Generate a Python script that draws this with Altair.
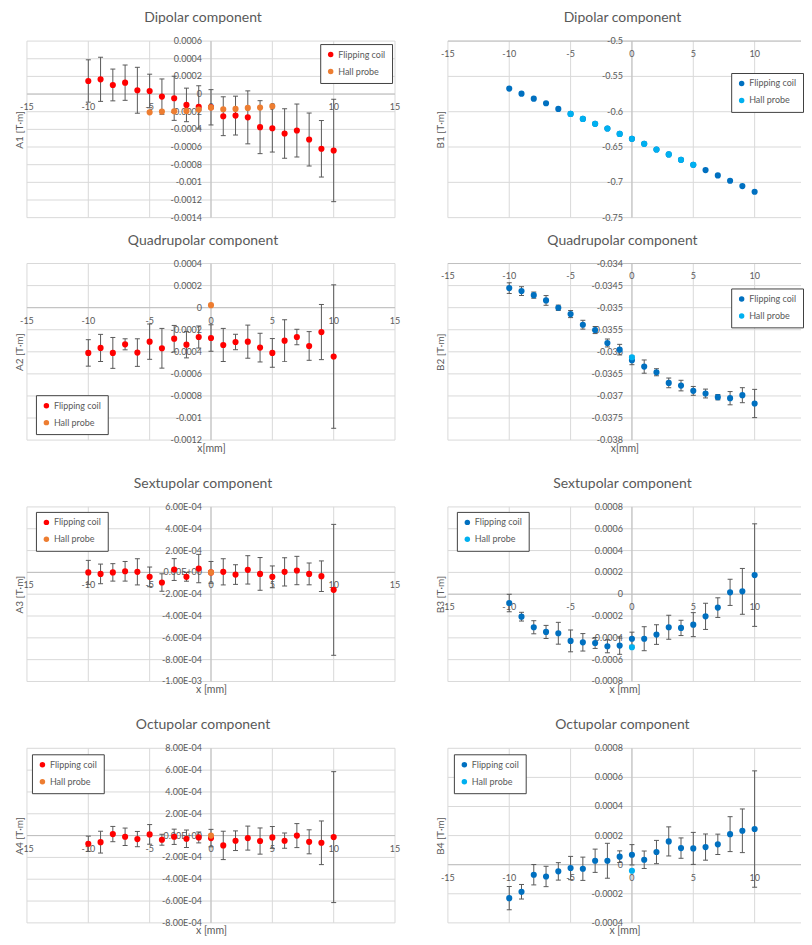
import altair as alt
import pandas as pd

FONT = "Lato"
TXT = "#595959"
GRID = "#D9D9D9"
AXC = "#BFBFBF"
EBC = "#595959"
LEGB = "#404040"
SERIES = ["Flipping coil", "Hall probe"]
LEFT_COLORS = ["#FF0000", "#ED7D31"]
RIGHT_COLORS = ["#0070C0", "#00B0F0"]

X_POS = [-10, -9, -8, -7, -6, -5, -4, -3, -2, -1, 0, 1, 2, 3, 4, 5, 6, 7, 8, 9, 10]
X_TICKS_L = [-15, -10, -5, 0, 5, 10, 15]
X_TICKS_R = [-15, -10, -5, 0, 5, 10]

# ---- Dipolar ----
A1_FC = [0.000148, 0.000167, 0.000103, 0.000129, 0.000043, 0.000035, -0.000029, -0.000048,
         -0.000123, -0.000146, -0.00015, -0.000251, -0.000244, -0.000264, -0.000375, -0.000387,
         -0.000447, -0.000413, -0.000515, -0.00062, -0.000639]
A1_ERR = [0.00024, 0.00025, 0.00018, 0.0002, 0.00026, 0.00019, 0.0002, 0.00025, 0.00019, 0.00024,
          0.0002, 0.00022, 0.00022, 0.0003, 0.0003, 0.00027, 0.00028, 0.0003, 0.0003, 0.00032, 0.00058]
A1_HP_X = [-5, -4, -3, -2, -1, 0, 1, 2, 3, 4, 5]
A1_HP = [-0.000207, -0.000199, -0.000195, -0.000191, -0.000176, -0.000153, -0.000172, -0.000168,
         -0.000157, -0.000153, -0.000138]
A1_YT = [0.0006, 0.0004, 0.0002, 0.0, -0.0002, -0.0004, -0.0006, -0.0008, -0.001, -0.0012, -0.0014]
A1_YL = ["0.0006", "0.0004", "0.0002", "0", "-0.0002", "-0.0004", "-0.0006", "-0.0008", "-0.001",
         "-0.0012", "-0.0014"]

B1_FC = [-0.5673, -0.5744, -0.5815, -0.5880, -0.5960, -0.6031, -0.6102, -0.6172, -0.6238, -0.6314,
         -0.6384, -0.6455, -0.6535, -0.6605, -0.6681, -0.6751, -0.6827, -0.6902, -0.6977, -0.7053,
         -0.7133]
B1_HP_X = [-5, -4, -3, -2, -1, 0, 1, 2, 3, 4, 5]
B1_HP = [-0.6031, -0.6102, -0.6172, -0.6238, -0.6314, -0.6384, -0.6455, -0.6535, -0.6605, -0.6681,
         -0.6751]
B1_YT = [-0.5, -0.55, -0.6, -0.65, -0.7, -0.75]
B1_YL = ["-0.5", "-0.55", "-0.6", "-0.65", "-0.7", "-0.75"]

# ---- Quadrupolar ----
A2_FC = [-0.00041, -0.000365, -0.00041, -0.000332, -0.000407, -0.000308, -0.000368, -0.000281,
         -0.000335, -0.000266, -0.000275, -0.000338, -0.000311, -0.000308, -0.000362, -0.00041,
         -0.000299, -0.000266, -0.000347, -0.000221, -0.000443]
A2_ERR = [0.00012, 0.000123, 0.00014, 0.00005, 0.000125, 0.00016, 0.00018, 0.00012, 0.00012, 0.0001,
          0.00012, 0.00015, 0.00007, 0.00015, 0.00013, 0.00013, 0.00019, 0.00007, 0.00013, 0.00025,
          0.00065]
A2_HP_X = [0]
A2_HP = [0.000023]
A2_YT = [0.0004, 0.0002, 0.0, -0.0002, -0.0004, -0.0006, -0.0008, -0.001, -0.0012]
A2_YL = ["0.0004", "0.0002", "0", "-0.0002", "-0.0004", "-0.0006", "-0.0008", "-0.001", "-0.0012"]

B2_FC = [-0.034557, -0.034625, -0.034716, -0.034836, -0.035002, -0.035145, -0.035386, -0.035507,
         -0.0358, -0.035951, -0.036192, -0.036335, -0.036463, -0.036704, -0.036765, -0.036885,
         -0.036945, -0.037028, -0.037051, -0.036983, -0.037171]
B2_ERR = [0.00012, 0.0001, 0.00007, 0.00011, 0.00006, 0.00008, 0.0001, 0.00008, 0.00009, 0.00012,
          0.0001, 0.00015, 0.00008, 0.00011, 0.00012, 0.0001, 0.0001, 0.00006, 0.00015, 0.00017,
          0.00032]
B2_HP_X = [0]
B2_HP = [-0.036124]
B2_YT = [-0.034, -0.0345, -0.035, -0.0355, -0.036, -0.0365, -0.037, -0.0375, -0.038]
B2_YL = ["-0.034", "-0.0345", "-0.035", "-0.0355", "-0.036", "-0.0365", "-0.037", "-0.0375", "-0.038"]

# ---- Sextupolar ----
A3_FC = [0.0, -0.000014, 0.0, 0.00001, 0.000005, -0.000041, -0.000093, 0.000026, -0.000041,
         0.000035, 0.0, 0.000005, -0.00002, 0.000023, -0.000014, -0.000041, 0.000005, 0.000017,
         -0.000014, -0.000035, -0.00016]
A3_ERR = [0.00011, 0.00009, 0.00008, 0.00009, 0.00012, 0.00009, 0.00008, 0.0001, 0.00004, 0.00013,
          0.0001, 0.00012, 0.00009, 0.00013, 0.00015, 0.0001, 0.00013, 0.00013, 0.0001, 0.00014,
          0.0006]
A3_HP_X = [0]
A3_HP = [0.0]
A3_YT = [0.0006, 0.0004, 0.0002, 0.0, -0.0002, -0.0004, -0.0006, -0.0008, -0.001]
A3_YL = ["6.00E-04", "4.00E-04", "2.00E-04", "0.00E+00", "-2.00E-04", "-4.00E-04", "-6.00E-04",
         "-8.00E-04", "-1.00E-03"]

B3_FC = [-0.000081, -0.000206, -0.000303, -0.000346, -0.000358, -0.000428, -0.000441, -0.000447,
         -0.000477, -0.000471, -0.000408, -0.000408, -0.00037, -0.000303, -0.000309, -0.000279,
         -0.000203, -0.000123, 0.000017, 0.000026, 0.000175]
B3_ERR = [0.00008, 0.00004, 0.00006, 0.00006, 0.0001, 0.0001, 0.00008, 0.00005, 0.00006, 0.00008,
          0.00006, 0.00011, 0.00009, 0.00011, 0.00007, 0.00011, 0.00012, 0.00009, 0.00012, 0.00021,
          0.00047]
B3_HP_X = [0]
B3_HP = [-0.000486]
B3_YT = [0.0008, 0.0006, 0.0004, 0.0002, 0.0, -0.0002, -0.0004, -0.0006, -0.0008]
B3_YL = ["0.0008", "0.0006", "0.0004", "0.0002", "0", "-0.0002", "-0.0004", "-0.0006", "-0.0008"]

# ---- Octupolar ----
A4_FC = [-0.000075, -0.00006, 0.000014, -0.000011, -0.000032, 0.000011, -0.000038, -0.000011,
         -0.000029, -0.000017, -0.000023, -0.00009, -0.000047, -0.000023, -0.00005, -0.000017,
         -0.000047, 0.0, -0.000057, -0.000066, -0.000014]
A4_ERR = [0.00007, 0.0001, 0.00007, 0.00008, 0.00007, 0.00009, 0.00005, 0.00007, 0.00008, 0.00005,
          0.00008, 0.00013, 0.00009, 0.00011, 0.00012, 0.0001, 0.00007, 0.00011, 0.00011, 0.0002,
          0.0006]
A4_HP_X = [0]
A4_HP = [0.0]
A4_YT = [0.0008, 0.0006, 0.0004, 0.0002, 0.0, -0.0002, -0.0004, -0.0006, -0.0008]
A4_YL = ["8.00E-04", "6.00E-04", "4.00E-04", "2.00E-04", "0.00E+00", "-2.00E-04", "-4.00E-04",
         "-6.00E-04", "-8.00E-04"]

B4_FC = [-0.00023, -0.000186, -0.000069, -0.000081, -0.000046, -0.000023, -0.000028, 0.000027,
         0.000027, 0.000055, 0.000068, 0.000034, 0.000087, 0.00016, 0.000114, 0.000112, 0.000121,
         0.00014, 0.00021, 0.000233, 0.000245]
B4_ERR = [0.00008, 0.00005, 0.00007, 0.00007, 0.00006, 0.00008, 0.00008, 0.00008, 0.00012, 0.00004,
          0.00007, 0.00006, 0.00008, 0.0001, 0.00007, 0.00011, 0.00009, 0.00007, 0.00012, 0.00015,
          0.0004]
B4_HP_X = [0]
B4_HP = [-0.000042]
B4_YT = [0.0008, 0.0006, 0.0004, 0.0002, 0.0, -0.0002, -0.0004]
B4_YL = ["0.0008", "0.0006", "0.0004", "0.0002", "0", "-0.0002", "-0.0004"]

W_L, W_R = 369, 354
XMAX_L, XMAX_R = 15, 13.78


def panel(title, ytitle, xtitle, yt, ylab, ycross, fc, err, hp_x, hp, colors, leg,
          left, height):
    width = W_L if left else W_R
    xmax = XMAX_L if left else XMAX_R
    xticks = X_TICKS_L if left else X_TICKS_R
    xs = alt.Scale(domain=[-15, xmax], nice=False, zero=False)
    ys = alt.Scale(domain=[min(yt), max(yt)], nice=False, zero=False)
    xax = alt.Axis(labels=False, ticks=False, domain=False, grid=False, title=xtitle,
                   titlePadding=3, minExtent=0, titleFont=FONT, titleFontSize=10.5,
                   titleFontWeight="normal", titleColor=TXT)
    yax = alt.Axis(labels=False, ticks=False, domain=False, grid=False, title=ytitle,
                   titlePadding=2, minExtent=0, titleFont=FONT, titleFontSize=10,
                   titleFontWeight="normal", titleColor=TXT)

    def X(f):
        return alt.X(f, type="quantitative", scale=xs, axis=xax)

    def Y(f):
        return alt.Y(f, type="quantitative", scale=ys, axis=yax)

    layers = []
    layers.append(alt.Chart(pd.DataFrame({"v": yt})).mark_rule(color=GRID, strokeWidth=1)
                  .encode(y=Y("v")))
    layers.append(alt.Chart(pd.DataFrame({"v": xticks})).mark_rule(color=GRID, strokeWidth=1)
                  .encode(x=X("v")))
    layers.append(alt.Chart(pd.DataFrame({"v": [0]})).mark_rule(color=AXC, strokeWidth=1)
                  .encode(x=X("v")))
    layers.append(alt.Chart(pd.DataFrame({"v": [ycross]})).mark_rule(color=AXC, strokeWidth=1)
                  .encode(y=Y("v")))
    xl_df = pd.DataFrame({"v": xticks, "c": [ycross] * len(xticks),
                          "t": [str(t) for t in xticks]})
    layers.append(alt.Chart(xl_df).mark_text(font=FONT, fontSize=9, color=TXT,
                                             baseline="middle", dy=13)
                  .encode(x=X("v"), y=Y("c"), text="t:N"))
    yl_df = pd.DataFrame({"v": yt, "c": [0] * len(yt), "t": ylab})
    layers.append(alt.Chart(yl_df).mark_text(font=FONT, fontSize=9, color=TXT, align="right",
                                             baseline="middle", dx=-9)
                  .encode(x=X("c"), y=Y("v"), text="t:N"))
    if err is not None:
        e_df = pd.DataFrame({"x": X_POS,
                             "lo": [v - e for v, e in zip(fc, err)],
                             "hi": [v + e for v, e in zip(fc, err)]})
        layers.append(alt.Chart(e_df).mark_rule(color=EBC, strokeWidth=1)
                      .encode(x=X("x"), y=Y("lo"), y2=alt.Y2("hi")))
        layers.append(alt.Chart(e_df).mark_tick(orient="horizontal", size=5, thickness=1,
                                                color=EBC, opacity=1)
                      .encode(x=X("x"), y=Y("lo")))
        layers.append(alt.Chart(e_df).mark_tick(orient="horizontal", size=5, thickness=1,
                                                color=EBC, opacity=1)
                      .encode(x=X("x"), y=Y("hi")))
    p_df = pd.DataFrame({"x": X_POS + hp_x, "y": fc + hp,
                         "s": [SERIES[0]] * len(fc) + [SERIES[1]] * len(hp)})
    legend = alt.Legend(title=None, orient="none", legendX=leg[0], legendY=leg[1],
                        direction="vertical", fillColor="white", strokeColor=LEGB, padding=6,
                        rowPadding=7, symbolType="circle", symbolSize=30, labelFont=FONT,
                        labelFontSize=9, labelColor=TXT, labelOffset=3)
    layers.append(alt.Chart(p_df).mark_circle(size=38, opacity=1)
                  .encode(x=X("x"), y=Y("y"),
                          color=alt.Color("s:N", scale=alt.Scale(domain=SERIES, range=colors),
                                          legend=legend)))
    return alt.layer(*layers).properties(
        width=width, height=height,
        title=alt.TitleParams(text=title, font=FONT, fontSize=14, fontWeight="normal",
                              color=TXT, anchor="middle", frame="group", offset=12,
                              dx=-8 if left else -2))


def spacer(left, h):
    return alt.Chart(pd.DataFrame({"v": [0]})).mark_rule(opacity=0).encode(
        x=alt.X("v:Q", axis=None)).properties(width=W_L if left else W_R, height=h)


cells = [
    panel("Dipolar component", "A1 [T·m]", None, A1_YT, A1_YL, 0.0, A1_FC, A1_ERR, A1_HP_X, A1_HP,
          LEFT_COLORS, (294, 3), True, 177),
    panel("Dipolar component", "B1 [T·m]", None, B1_YT, B1_YL, -0.5, B1_FC, None, B1_HP_X, B1_HP,
          RIGHT_COLORS, (284, 32), False, 177),
    spacer(True, 2), spacer(False, 2),
    panel("Quadrupolar component", "A2 [T·m]", "x[mm]", A2_YT, A2_YL, 0.0, A2_FC, A2_ERR, A2_HP_X,
          A2_HP, LEFT_COLORS, (9, 132), True, 177),
    panel("Quadrupolar component", "B2 [T·m]", "x[mm]", B2_YT, B2_YL, -0.034, B2_FC, B2_ERR,
          B2_HP_X, B2_HP, RIGHT_COLORS, (284, 25), False, 177),
    spacer(True, 23), spacer(False, 23),
    panel("Sextupolar component", "A3 [T·m]", "x [mm]", A3_YT, A3_YL, 0.0, A3_FC, A3_ERR, A3_HP_X,
          A3_HP, LEFT_COLORS, (9, 5), True, 175),
    panel("Sextupolar component", "B3 [T·m]", "x [mm]", B3_YT, B3_YL, 0.0, B3_FC, B3_ERR, B3_HP_X,
          B3_HP, RIGHT_COLORS, (9, 5), False, 175),
    spacer(True, 23), spacer(False, 23),
    panel("Octupolar component", "A4 [T·m]", "x [mm]", A4_YT, A4_YL, 0.0, A4_FC, A4_ERR, A4_HP_X,
          A4_HP, LEFT_COLORS, (5, 6), True, 175),
    panel("Octupolar component", "B4 [T·m]", "x [mm]", B4_YT, B4_YL, 0.0, B4_FC, B4_ERR, B4_HP_X,
          B4_HP, RIGHT_COLORS, (6, 6), False, 175),
]

chart = alt.concat(*cells, columns=2, spacing={"row": 22, "column": 53}, bounds="flush",
                   align="each").resolve_scale(color="independent").resolve_legend(
    color="independent").properties(
    padding={"left": 7, "top": 2, "right": 0, "bottom": 0}, background="white"
).configure_view(stroke=None)

chart.save("out.html", embed_options={"renderer": "svg", "actions": False})
